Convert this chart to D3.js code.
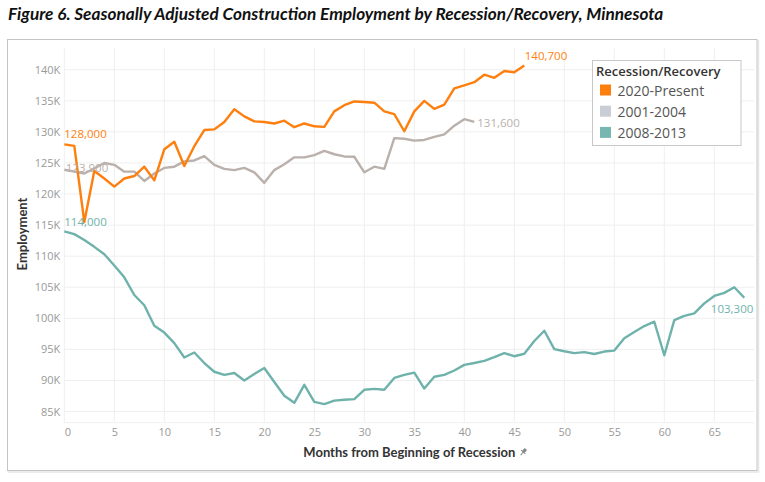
<!DOCTYPE html>
<html>
<head>
<meta charset="utf-8">
<script src="https://cdn.jsdelivr.net/npm/d3@7"></script>
<style>
  html, body { margin: 0; padding: 0; background: #fff; }
  svg { display: block; }
</style>
</head>
<body>
<svg id="chart" width="765" height="482"></svg>
<script>
// ---- Data (thousands of jobs, by month from beginning of recession) ----
const seriesNames = ["2020-Present", "2001-2004", "2008-2013"];
const seriesColors = ["#ff7f0e", "#bab0ac", "#6fb2ac"];
const legendColors = ["#ff7f0e", "#c8cdd6", "#76b7b2"];

const recovery2020 = [128.0, 127.75, 115.5, 123.7, 122.5, 121.2, 122.5, 122.9, 124.4, 122.2,
  127.2, 128.4, 124.5, 127.7, 130.3, 130.4, 131.6, 133.65, 132.5, 131.7,
  131.6, 131.35, 131.8, 130.75, 131.35, 130.9, 130.8, 133.3, 134.3, 134.9,
  134.8, 134.7, 133.3, 132.85, 130.1, 133.3, 135.0, 133.7, 134.4, 137.0,
  137.5, 138.0, 139.2, 138.7, 139.8, 139.6, 140.7];

const recovery2001 = [123.9, 123.6, 123.3, 124.1, 125.0, 124.7, 123.6, 123.6, 122.1, 123.3,
  124.2, 124.4, 125.25, 125.4, 126.1, 124.7, 124.05, 123.85, 124.2, 123.5,
  121.8, 123.85, 124.8, 125.9, 125.9, 126.25, 126.95, 126.4, 126.05, 126.0,
  123.5, 124.4, 124.05, 129.0, 128.9, 128.6, 128.7, 129.2, 129.6, 131.0,
  132.05, 131.6];

const recovery2008 = [114.0, 113.55, 112.6, 111.5, 110.3, 108.5, 106.6, 103.75, 102.1, 98.8,
  97.7, 96.0, 93.7, 94.5, 92.8, 91.4, 90.9, 91.2, 90.0, 91.05,
  92.0, 89.75, 87.55, 86.4, 89.3, 86.55, 86.2, 86.75, 86.9, 87.0,
  88.5, 88.65, 88.5, 90.4, 90.9, 91.25, 88.7, 90.6, 90.9, 91.6,
  92.5, 92.8, 93.15, 93.75, 94.4, 93.9, 94.3, 96.35, 98.0, 95.05,
  94.7, 94.4, 94.55, 94.25, 94.65, 94.8, 96.8, 97.8, 98.75, 99.45,
  94.05, 99.7, 100.4, 100.8, 102.4, 103.6, 104.1, 105.0, 103.3];

const xTicks = [0, 5, 10, 15, 20, 25, 30, 35, 40, 45, 50, 55, 60, 65];
const yTicks = [85, 90, 95, 100, 105, 110, 115, 120, 125, 130, 135, 140];

const titleText = "Figure 6. Seasonally Adjusted Construction Employment by Recession/Recovery, Minnesota";
const xTitle = "Months from Beginning of Recession";
const yTitle = "Employment";
const legendTitle = "Recession/Recovery";

// ---- Layout ----
const svg = d3.select("#chart");
const plot = { left: 64.3, right: 754.3, top: 48, bottom: 422.7 };

const x = d3.scaleLinear().domain([0, 69]).range([plot.left, plot.right]);
const y = d3.scaleLinear().domain([83.2, 143.5]).range([plot.bottom, plot.top]);

const fmt = d3.format(",");
const kfmt = v => v + "K";

// outer frame
svg.append("rect").attr("x", 8.5).attr("y", 41).attr("width", 750).attr("height", 431)
  .attr("fill", "none").attr("stroke", "#e6e6e6").attr("stroke-width", 1.5);
svg.append("rect").attr("x", 7.5).attr("y", 39.5).attr("width", 749.5).attr("height", 431)
  .attr("fill", "#fff").attr("stroke", "#c4c4c4").attr("stroke-width", 1);

// title
const title = svg.append("text")
  .attr("x", 8).attr("y", 20)
  .style("font-family", "Lato, 'Open Sans', sans-serif")
  .style("font-weight", "bold").style("font-style", "italic")
  .style("font-size", "15px").attr("fill", "#111")
  .text(titleText);
const tw = title.node().getComputedTextLength();
if (tw > 0) title.style("font-size", (15 * 656 / tw).toFixed(2) + "px");

// gridlines
const grid = svg.append("g");
grid.selectAll("line.h").data(yTicks).join("line")
  .attr("x1", plot.left).attr("x2", plot.right)
  .attr("y1", d => y(d)).attr("y2", d => y(d))
  .attr("stroke", "#efefef").attr("stroke-width", 1);
grid.selectAll("line.v").data(xTicks).join("line")
  .attr("x1", d => x(d)).attr("x2", d => x(d))
  .attr("y1", plot.top).attr("y2", plot.bottom)
  .attr("stroke", "#efefef").attr("stroke-width", 1);
grid.append("line").attr("x1", plot.left).attr("x2", plot.right)
  .attr("y1", plot.bottom).attr("y2", plot.bottom)
  .attr("stroke", "#f0f0f0");

// y axis
const yAxis = d3.axisLeft(y).tickValues(yTicks).tickFormat(kfmt).tickSize(0).tickPadding(4);
const yg = svg.append("g").attr("transform", `translate(${plot.left},0)`).call(yAxis);
yg.select(".domain").remove();
yg.selectAll("text").attr("fill", "#999")
  .style("font-family", "'Open Sans', sans-serif").style("font-size", "11px");

// x axis
const xAxis = d3.axisBottom(x).tickValues(xTicks).tickSize(0).tickPadding(6);
const xg = svg.append("g").attr("transform", `translate(0,${plot.bottom})`).call(xAxis);
xg.select(".domain").remove();
xg.selectAll("text").attr("fill", "#999")
  .style("font-family", "'Open Sans', sans-serif").style("font-size", "11px")
  .attr("text-anchor", d => d === 0 ? "start" : "middle");

// axis titles
const xt = svg.append("text")
  .attr("x", (plot.left + plot.right) / 2).attr("y", 457)
  .attr("text-anchor", "middle")
  .style("font-family", "Lato, 'Open Sans', sans-serif").style("font-weight", "bold")
  .style("font-size", "13px").attr("fill", "#333")
  .text(xTitle);
// small pin icon after the axis title
const xtb = xt.node().getBBox();
const pin = svg.append("g")
  .attr("transform", `translate(${xtb.x + xtb.width + 8},${452}) rotate(40)`);
pin.append("rect").attr("x", -1.6).attr("y", -4).attr("width", 3.2).attr("height", 4).attr("fill", "#888");
pin.append("line").attr("x1", -2.8).attr("x2", 2.8).attr("y1", 0).attr("y2", 0).attr("stroke", "#888");
pin.append("line").attr("x1", 0).attr("x2", 0).attr("y1", 0).attr("y2", 4).attr("stroke", "#888");

svg.append("text")
  .attr("transform", `translate(27,234) rotate(-90)`)
  .attr("text-anchor", "middle")
  .style("font-family", "Lato, 'Open Sans', sans-serif").style("font-weight", "bold")
  .style("font-size", "13px").attr("fill", "#333")
  .text(yTitle);

// lines
const allSeries = [recovery2008, recovery2001, recovery2020];
const allColors = [seriesColors[2], seriesColors[1], seriesColors[0]];
const line = d3.line().x((d, i) => x(i)).y(d => y(d));
svg.append("g").selectAll("path").data(allSeries).join("path")
  .attr("d", line)
  .attr("fill", "none")
  .attr("stroke", (d, i) => allColors[i])
  .attr("stroke-width", 2.4)
  .attr("stroke-linejoin", "round");

// end labels
const labelStyle = sel => sel
  .style("font-family", "'Open Sans', sans-serif").style("font-size", "11.5px");

function addLabel(series, idx, color, dx, dy, anchor) {
  svg.append("text")
    .attr("x", x(idx) + dx).attr("y", y(series[idx]) + dy)
    .attr("text-anchor", anchor)
    .attr("dominant-baseline", "central")
    .attr("fill", color)
    .call(labelStyle)
    .text(fmt(Math.round(series[idx] * 1000)));
}
addLabel(recovery2020, 0, seriesColors[0], 0, -11, "start");
addLabel(recovery2001, 0, seriesColors[1], 1.5, -2, "start");
addLabel(recovery2008, 0, seriesColors[2], 0, -10, "start");
addLabel(recovery2020, recovery2020.length - 1, seriesColors[0], 0.5, -9.5, "start");
addLabel(recovery2001, recovery2001.length - 1, seriesColors[1], 3, 0.5, "start");
addLabel(recovery2008, recovery2008.length - 1, seriesColors[2], 9, 10.5, "end");

// legend
const lg = svg.append("g");
lg.append("rect").attr("x", 592.5).attr("y", 60.5).attr("width", 148.5).attr("height", 85)
  .attr("fill", "#fff").attr("stroke", "#c8c8c8");
lg.append("text").attr("x", 596).attr("y", 71).attr("dominant-baseline", "central")
  .style("font-family", "'Open Sans', sans-serif").style("font-weight", 600)
  .style("font-size", "13px").attr("fill", "#333").text(legendTitle);
const rows = lg.selectAll("g.item").data(seriesNames).join("g")
  .attr("transform", (d, i) => `translate(600,${90 + i * 21.2})`);
rows.append("rect").attr("x", 0).attr("y", -5.5).attr("width", 11).attr("height", 11)
  .attr("fill", (d, i) => legendColors[i]);
rows.append("text").attr("x", 17.5).attr("y", 0).attr("dominant-baseline", "central")
  .style("font-family", "'Open Sans', sans-serif").style("font-size", "14px")
  .attr("fill", "#555").text(d => d);
</script>
</body>
</html>
